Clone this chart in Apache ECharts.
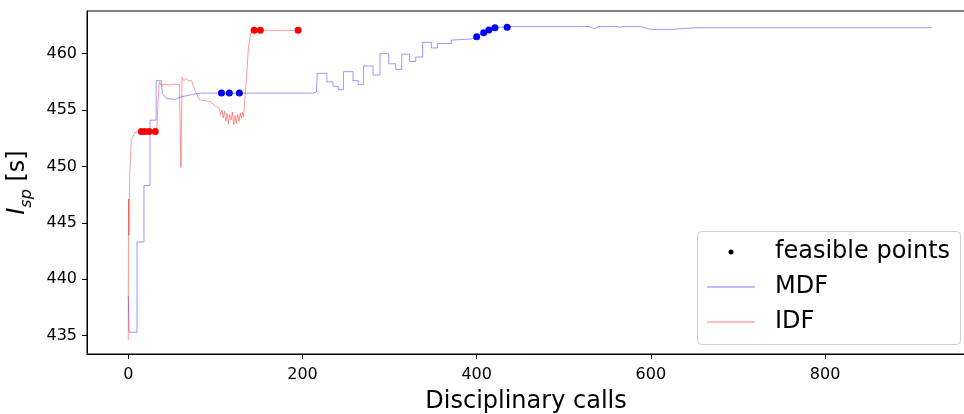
<!DOCTYPE html>
<html><head><meta charset="utf-8">
<script src="https://cdn.jsdelivr.net/npm/echarts@6/dist/echarts.min.js"></script>
<style>html,body{margin:0;padding:0;background:#fff}#c{width:964px;height:414px}</style>
</head><body><div id="c"></div>
<script>
const xTicks = [0, 200, 400, 600, 800];
const yTicks = [435, 440, 445, 450, 455, 460];

const mdfX = [0,1,10,10,18,18,25,25,32,32,38,39,44,54,62,75,82,212,213,216,217,228,228,235,235,241,241,247,247,258,258,264,264,270,270,281,281,289,289,299,299,307,307,314,314,323,323,330,330,338,338,348,348,355,355,371,371,394,400,408,414,421,435,530,535,540,562,565,568,588,600,624,653,923];
const mdfY = [438.5,435.3,435.3,443.3,443.3,448.3,448.3,454.1,454.1,457.6,457.6,456.5,456.0,455.95,456.2,456.4,456.5,456.5,456.6,456.6,458.25,458.25,457.5,457.5,457.1,457.1,456.8,456.8,458.4,458.4,457.6,457.6,457.25,457.25,458.9,458.9,458.1,458.1,460.0,460.0,459.1,459.1,458.6,458.6,459.95,459.95,459.3,459.3,459.7,459.7,461.0,461.0,460.5,460.5,460.9,460.9,461.2,461.3,461.5,461.85,462.1,462.3,462.4,462.4,462.2,462.4,462.4,462.33,462.4,462.4,462.15,462.15,462.3,462.3];

const idfX = [0,0.3,0.7,1.6,3.5,7.3,13,32.6,34,35.6,38,42,46,50,55,58.6,60.5,61.7,64,66,69,72.8,76.6,82,94,99.5,104.5,106,107.5,109,110.5,112,113.5,115,116.5,118,119.5,121,122.5,124,125.5,127,128.5,130,131,132.4,135,138,140.6,144.4,195];
const idfY = [434.6,447.1,443.9,449.1,452.3,453.0,453.1,453.1,455.5,457.5,457.2,457.3,457.2,457.3,457.25,457.3,449.9,457.9,457.6,457.8,457.6,457.6,456.7,455.9,455.75,455.4,455.15,454.6,455.0,454.3,454.9,454.0,454.7,453.8,454.6,454.1,454.8,453.7,454.5,453.8,454.6,454.0,454.7,454.3,454.8,454.4,457.1,460.6,461.8,462.07,462.07];

const mdfFeasX = [107,116,127.5,400,408,414,421,435];
const mdfFeasY = [456.5,456.5,456.5,461.5,461.85,462.1,462.3,462.35];
const idfFeasX = [15,19,24,31,144.5,151.6,195];
const idfFeasY = [453.1,453.1,453.1,453.1,462.07,462.07,462.07];

const zip = (xs, ys) => xs.map((x, i) => [x, ys[i]]);
const FONT = 'DejaVu Sans';
const legendText = {fontFamily: FONT, fontSize: 24, color: '#000', padding: [0, 0, 0, 15]};

const chart = echarts.init(document.getElementById('c'), null, {renderer: 'canvas'});
chart.setOption({
  animation: false,
  backgroundColor: '#fff',
  textStyle: {fontFamily: FONT, color: '#000'},
  grid: {left: 87, top: 11, width: 878, height: 343, show: true, borderColor: '#000', borderWidth: 1,
         backgroundColor: 'transparent', containLabel: false, outerBoundsMode: 'none'},
  xAxis: {
    type: 'value', min: -47.4, max: 960.7,
    name: 'Disciplinary calls', nameLocation: 'middle', nameGap: 36,
    nameTextStyle: {fontFamily: FONT, fontSize: 24, color: '#000'},
    axisLine: {show: true, onZero: false, lineStyle: {color: '#000', width: 1}},
    axisTick: {show: true, length: 5, inside: false, customValues: xTicks, lineStyle: {color: '#000'}},
    axisLabel: {show: true, customValues: xTicks, margin: 13, fontSize: 16, fontFamily: FONT, color: '#000'},
    splitLine: {show: false}
  },
  yAxis: {
    type: 'value', min: 433.37, max: 463.78,
    name: '{i|I}{sub|sp}{n| [s]}', nameLocation: 'middle', nameRotate: 90, nameGap: 52,
    nameTextStyle: {
      fontFamily: FONT, fontSize: 24, color: '#000',
      rich: {
        i: {fontFamily: FONT, fontSize: 24, fontStyle: 'italic', verticalAlign: 'bottom', padding: [0, 0, 5, 0]},
        sub: {fontFamily: FONT, fontSize: 16, fontStyle: 'italic', verticalAlign: 'bottom'},
        n: {fontFamily: FONT, fontSize: 24, verticalAlign: 'bottom', padding: [0, 0, 5, 0]}
      }
    },
    axisLine: {show: true, onZero: false, lineStyle: {color: '#000', width: 1}},
    axisTick: {show: true, length: 5, inside: false, customValues: yTicks, lineStyle: {color: '#000'}},
    axisLabel: {show: true, customValues: yTicks, margin: 10, fontSize: 16, fontFamily: FONT, color: '#000'},
    splitLine: {show: false}
  },
  legend: [
    {left: 728.5, top: 240, padding: 0, itemWidth: 5, itemHeight: 5,
     textStyle: {fontFamily: FONT, fontSize: 24, color: '#000', padding: [0, 0, 0, 36.5]}, selectedMode: false,
     data: [{name: 'feasible points', icon: 'circle', itemStyle: {color: '#000', borderWidth: 0}}]},
    {left: 707, top: 275, padding: 0, itemWidth: 48, itemHeight: 1, textStyle: legendText, selectedMode: false,
     data: [{name: 'MDF', icon: 'rect', itemStyle: {color: 'rgba(0,0,255,0.5)', borderWidth: 0}}]},
    {left: 707, top: 310, padding: 0, itemWidth: 48, itemHeight: 1, textStyle: legendText, selectedMode: false,
     data: [{name: 'IDF', icon: 'rect', itemStyle: {color: 'rgba(255,0,0,0.5)', borderWidth: 0}}]}
  ],
  graphic: [{
    type: 'rect', left: 697, top: 231, z: 3,
    shape: {width: 263, height: 113, r: 4},
    style: {fill: 'rgba(255,255,255,0.8)', stroke: '#d0d0d0', lineWidth: 1}
  }],
  series: [
    {name: 'MDF', type: 'line', data: zip(mdfX, mdfY), showSymbol: false, symbol: 'none', z: 2,
     lineStyle: {color: 'rgba(0,0,255,0.5)', width: 0.8}, itemStyle: {color: 'rgba(0,0,255,0.5)'}},
    {name: 'IDF', type: 'line', data: zip(idfX, idfY), showSymbol: false, symbol: 'none', z: 3,
     lineStyle: {color: 'rgba(255,0,0,0.5)', width: 0.8}, itemStyle: {color: 'rgba(255,0,0,0.5)'}},
    {name: 'feasible points', type: 'scatter', data: zip(mdfFeasX, mdfFeasY), symbolSize: 7, z: 4,
     itemStyle: {color: '#0000ff', opacity: 1}},
    {name: 'feasible points', type: 'scatter', data: zip(idfFeasX, idfFeasY), symbolSize: 7, z: 4,
     itemStyle: {color: '#ff0000', opacity: 1}}
  ]
});
</script>
</body></html>
